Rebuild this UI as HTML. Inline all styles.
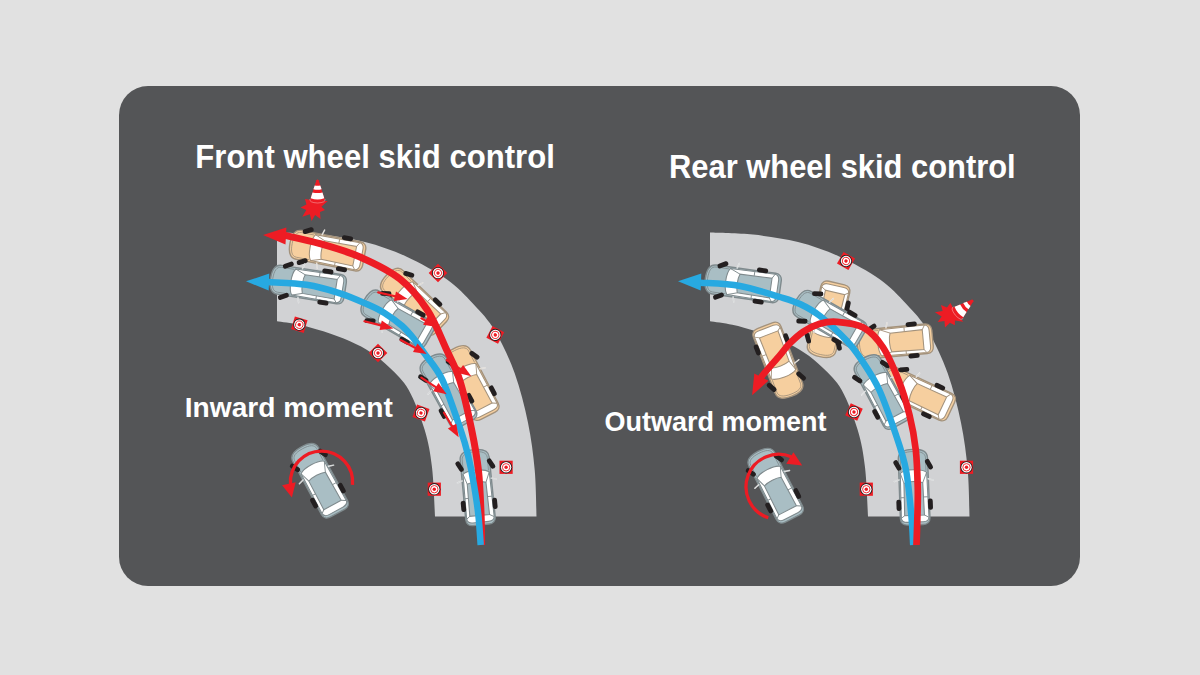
<!DOCTYPE html>
<html><head><meta charset="utf-8"><title>Skid control</title>
<style>
html,body{margin:0;padding:0;background:#e1e1e1;}
body{width:1200px;height:675px;overflow:hidden;position:relative;font-family:"Liberation Sans",sans-serif;}
svg{position:absolute;left:0;top:0;display:block}
.t{position:absolute;color:#fff;font-weight:bold;white-space:nowrap;transform-origin:0 0;line-height:1}
</style></head><body>
<svg width="1200" height="675" viewBox="0 0 1200 675">
<rect x="0" y="0" width="1200" height="675" fill="#e1e1e1"/>
<rect x="119" y="86" width="961" height="500" rx="29" ry="29" fill="#545557"/>
<path d="M277.0,232.5 C284.2,232.8 305.3,233.0 320.0,234.6 C334.7,236.2 350.6,238.3 365.0,242.0 C379.4,245.7 393.1,250.5 406.7,256.7 C420.3,262.9 435.6,271.4 446.7,279.3 C457.8,287.2 465.2,295.4 473.3,304.0 C481.4,312.6 488.1,319.4 495.0,331.0 C501.9,342.6 509.2,358.0 514.7,373.3 C520.2,388.6 524.7,406.6 528.0,422.7 C531.3,438.8 533.3,454.4 534.7,470.0 C536.1,485.6 536.2,508.7 536.5,516.4 L435.0,516.4 C434.5,508.2 433.7,481.7 432.0,467.3 C430.3,452.9 428.6,442.9 424.7,430.0 C420.8,417.1 414.5,400.3 408.7,390.0 C402.9,379.7 396.2,374.2 390.0,368.0 C383.8,361.8 378.0,357.1 371.3,352.7 C364.6,348.2 358.0,344.9 350.0,341.3 C342.0,337.7 331.8,334.1 323.3,331.3 C314.9,328.5 307.0,326.4 299.3,324.7 C291.6,323.0 280.7,321.8 277.0,321.2 Z" fill="#d1d2d4"/>
<g transform="translate(438.0,273.0) rotate(45.0)"><rect x="-6.6" y="-6.6" width="13.2" height="13.2" fill="#ed1c24"/><circle r="6.1" fill="#231f20"/><circle r="5.2" fill="#fff"/><circle r="3.7" fill="none" stroke="#ed1c24" stroke-width="0.9"/><circle r="1.7" fill="#ed1c24"/></g>
<g transform="translate(495.3,334.9) rotate(28.0)"><rect x="-6.6" y="-6.6" width="13.2" height="13.2" fill="#ed1c24"/><circle r="6.1" fill="#231f20"/><circle r="5.2" fill="#fff"/><circle r="3.7" fill="none" stroke="#ed1c24" stroke-width="0.9"/><circle r="1.7" fill="#ed1c24"/></g>
<g transform="translate(299.3,324.7) rotate(17.0)"><rect x="-6.6" y="-6.6" width="13.2" height="13.2" fill="#ed1c24"/><circle r="6.1" fill="#231f20"/><circle r="5.2" fill="#fff"/><circle r="3.7" fill="none" stroke="#ed1c24" stroke-width="0.9"/><circle r="1.7" fill="#ed1c24"/></g>
<g transform="translate(378.0,353.0) rotate(45.0)"><rect x="-6.6" y="-6.6" width="13.2" height="13.2" fill="#ed1c24"/><circle r="6.1" fill="#231f20"/><circle r="5.2" fill="#fff"/><circle r="3.7" fill="none" stroke="#ed1c24" stroke-width="0.9"/><circle r="1.7" fill="#ed1c24"/></g>
<g transform="translate(421.0,413.0) rotate(20.0)"><rect x="-6.6" y="-6.6" width="13.2" height="13.2" fill="#ed1c24"/><circle r="6.1" fill="#231f20"/><circle r="5.2" fill="#fff"/><circle r="3.7" fill="none" stroke="#ed1c24" stroke-width="0.9"/><circle r="1.7" fill="#ed1c24"/></g>
<g transform="translate(506.1,467.3) rotate(0.0)"><rect x="-6.6" y="-6.6" width="13.2" height="13.2" fill="#ed1c24"/><circle r="6.1" fill="#231f20"/><circle r="5.2" fill="#fff"/><circle r="3.7" fill="none" stroke="#ed1c24" stroke-width="0.9"/><circle r="1.7" fill="#ed1c24"/></g>
<g transform="translate(434.3,489.2) rotate(0.0)"><rect x="-6.6" y="-6.6" width="13.2" height="13.2" fill="#ed1c24"/><circle r="6.1" fill="#231f20"/><circle r="5.2" fill="#fff"/><circle r="3.7" fill="none" stroke="#ed1c24" stroke-width="0.9"/><circle r="1.7" fill="#ed1c24"/></g>
<g transform="translate(327.3,250.4) rotate(-79.0) scale(1.000)">
<path d="M-14.6,-29 C-14.6,-35.5 -9,-38 0,-38 C9,-38 14.6,-35.5 14.6,-29 L14.8,31 C14.8,35 12,37.5 8,37.5 L-8,37.5 C-12,37.5 -14.8,35 -14.8,31 Z" fill="#f6cf9f" stroke="#a3927c" stroke-width="1.4"/>
<path d="M-12.6,-16 L-12.6,-29 C-12.6,-33.8 -8,-35.8 0,-35.8 C8,-35.8 12.6,-33.8 12.6,-29 L12.6,-16" fill="none" stroke="#a3927c" stroke-width="0.8"/>
<path d="M-13.2,-14.5 C-8,-18.5 8,-18.5 13.2,-14.5 L13.8,30.5 C13.5,33.5 11,34.8 8,34.8 L-8,34.8 C-11,34.8 -13.5,33.5 -13.8,30.5 Z" fill="#fff" stroke="#a3927c" stroke-width="1.05"/>
<path d="M-9.9,-4.3 C-5,-6.2 4.5,-6.2 8.9,-4.3 L9.4,28 L-10.4,28 Z" fill="#f6cf9f" stroke="#a3927c" stroke-width="1.05"/>
<path d="M-13.2,-14.5 L-9.9,-4.3 M13.2,-14.5 L8.9,-4.3 M-13.7,30.5 L-10.4,28 M13.7,30.5 L9.4,28 M-13.5,10 L-10.2,10 M13.5,10 L9.2,10" stroke="#a3927c" stroke-width="0.9" fill="none"/>
<path d="M-14.5,-8 L-19.5,-6.5 M14.5,-8 L19.5,-6.5" stroke="#f4f4f4" stroke-width="1.4" stroke-linecap="round"/>
<path d="M-14.5,-8 L-19.5,-6.5 M14.5,-8 L19.5,-6.5" stroke="#a3927c" stroke-width="0.4" stroke-linecap="round" opacity="0.6"/>
<rect x="-2.4" y="-5.6" width="4.8" height="11.2" rx="2.2" fill="#231f20" transform="translate(-15.8,-22.5) rotate(-28.0)"/>
<rect x="-2.4" y="-5.6" width="4.8" height="11.2" rx="2.2" fill="#231f20" transform="translate(-15.8,17.5)"/>
<rect x="-2.4" y="-5.6" width="4.8" height="11.2" rx="2.2" fill="#231f20" transform="translate(15.8,-22.5) rotate(-28.0)"/>
<rect x="-2.4" y="-5.6" width="4.8" height="11.2" rx="2.2" fill="#231f20" transform="translate(15.8,17.5)"/>
</g>
<g transform="translate(308.1,284.3) rotate(-81.0) scale(1.000)">
<path d="M-14.6,-29 C-14.6,-35.5 -9,-38 0,-38 C9,-38 14.6,-35.5 14.6,-29 L14.8,31 C14.8,35 12,37.5 8,37.5 L-8,37.5 C-12,37.5 -14.8,35 -14.8,31 Z" fill="#a9bec4" stroke="#7f8a8d" stroke-width="1.4"/>
<path d="M-12.6,-16 L-12.6,-29 C-12.6,-33.8 -8,-35.8 0,-35.8 C8,-35.8 12.6,-33.8 12.6,-29 L12.6,-16" fill="none" stroke="#7f8a8d" stroke-width="0.8"/>
<path d="M-13.2,-14.5 C-8,-18.5 8,-18.5 13.2,-14.5 L13.8,30.5 C13.5,33.5 11,34.8 8,34.8 L-8,34.8 C-11,34.8 -13.5,33.5 -13.8,30.5 Z" fill="#fff" stroke="#7f8a8d" stroke-width="1.05"/>
<path d="M-9.9,-4.3 C-5,-6.2 4.5,-6.2 8.9,-4.3 L9.4,28 L-10.4,28 Z" fill="#a9bec4" stroke="#7f8a8d" stroke-width="1.05"/>
<path d="M-13.2,-14.5 L-9.9,-4.3 M13.2,-14.5 L8.9,-4.3 M-13.7,30.5 L-10.4,28 M13.7,30.5 L9.4,28 M-13.5,10 L-10.2,10 M13.5,10 L9.2,10" stroke="#7f8a8d" stroke-width="0.9" fill="none"/>
<path d="M-14.5,-8 L-19.5,-6.5 M14.5,-8 L19.5,-6.5" stroke="#f4f4f4" stroke-width="1.4" stroke-linecap="round"/>
<path d="M-14.5,-8 L-19.5,-6.5 M14.5,-8 L19.5,-6.5" stroke="#7f8a8d" stroke-width="0.4" stroke-linecap="round" opacity="0.6"/>
<rect x="-2.4" y="-5.6" width="4.8" height="11.2" rx="2.2" fill="#231f20" transform="translate(-15.8,-22.5) rotate(-28.0)"/>
<rect x="-2.4" y="-5.6" width="4.8" height="11.2" rx="2.2" fill="#231f20" transform="translate(-15.8,17.5)"/>
<rect x="-2.4" y="-5.6" width="4.8" height="11.2" rx="2.2" fill="#231f20" transform="translate(15.8,-22.5) rotate(-28.0)"/>
<rect x="-2.4" y="-5.6" width="4.8" height="11.2" rx="2.2" fill="#231f20" transform="translate(15.8,17.5)"/>
</g>
<g transform="translate(414.0,301.3) rotate(-46.0) scale(1.000)">
<path d="M-14.6,-29 C-14.6,-35.5 -9,-38 0,-38 C9,-38 14.6,-35.5 14.6,-29 L14.8,31 C14.8,35 12,37.5 8,37.5 L-8,37.5 C-12,37.5 -14.8,35 -14.8,31 Z" fill="#f6cf9f" stroke="#a3927c" stroke-width="1.4"/>
<path d="M-12.6,-16 L-12.6,-29 C-12.6,-33.8 -8,-35.8 0,-35.8 C8,-35.8 12.6,-33.8 12.6,-29 L12.6,-16" fill="none" stroke="#a3927c" stroke-width="0.8"/>
<path d="M-13.2,-14.5 C-8,-18.5 8,-18.5 13.2,-14.5 L13.8,30.5 C13.5,33.5 11,34.8 8,34.8 L-8,34.8 C-11,34.8 -13.5,33.5 -13.8,30.5 Z" fill="#fff" stroke="#a3927c" stroke-width="1.05"/>
<path d="M-9.9,-4.3 C-5,-6.2 4.5,-6.2 8.9,-4.3 L9.4,28 L-10.4,28 Z" fill="#f6cf9f" stroke="#a3927c" stroke-width="1.05"/>
<path d="M-13.2,-14.5 L-9.9,-4.3 M13.2,-14.5 L8.9,-4.3 M-13.7,30.5 L-10.4,28 M13.7,30.5 L9.4,28 M-13.5,10 L-10.2,10 M13.5,10 L9.2,10" stroke="#a3927c" stroke-width="0.9" fill="none"/>
<path d="M-14.5,-8 L-19.5,-6.5 M14.5,-8 L19.5,-6.5" stroke="#f4f4f4" stroke-width="1.4" stroke-linecap="round"/>
<path d="M-14.5,-8 L-19.5,-6.5 M14.5,-8 L19.5,-6.5" stroke="#a3927c" stroke-width="0.4" stroke-linecap="round" opacity="0.6"/>
<rect x="-2.4" y="-5.6" width="4.8" height="11.2" rx="2.2" fill="#231f20" transform="translate(-15.8,-22.5) rotate(-28.0)"/>
<rect x="-2.4" y="-5.6" width="4.8" height="11.2" rx="2.2" fill="#231f20" transform="translate(-15.8,17.5)"/>
<rect x="-2.4" y="-5.6" width="4.8" height="11.2" rx="2.2" fill="#231f20" transform="translate(15.8,-22.5) rotate(-28.0)"/>
<rect x="-2.4" y="-5.6" width="4.8" height="11.2" rx="2.2" fill="#231f20" transform="translate(15.8,17.5)"/>
</g>
<g transform="translate(397.4,318.4) rotate(-60.0) scale(1.000)">
<path d="M-14.6,-29 C-14.6,-35.5 -9,-38 0,-38 C9,-38 14.6,-35.5 14.6,-29 L14.8,31 C14.8,35 12,37.5 8,37.5 L-8,37.5 C-12,37.5 -14.8,35 -14.8,31 Z" fill="#a9bec4" stroke="#7f8a8d" stroke-width="1.4"/>
<path d="M-12.6,-16 L-12.6,-29 C-12.6,-33.8 -8,-35.8 0,-35.8 C8,-35.8 12.6,-33.8 12.6,-29 L12.6,-16" fill="none" stroke="#7f8a8d" stroke-width="0.8"/>
<path d="M-13.2,-14.5 C-8,-18.5 8,-18.5 13.2,-14.5 L13.8,30.5 C13.5,33.5 11,34.8 8,34.8 L-8,34.8 C-11,34.8 -13.5,33.5 -13.8,30.5 Z" fill="#fff" stroke="#7f8a8d" stroke-width="1.05"/>
<path d="M-9.9,-4.3 C-5,-6.2 4.5,-6.2 8.9,-4.3 L9.4,28 L-10.4,28 Z" fill="#a9bec4" stroke="#7f8a8d" stroke-width="1.05"/>
<path d="M-13.2,-14.5 L-9.9,-4.3 M13.2,-14.5 L8.9,-4.3 M-13.7,30.5 L-10.4,28 M13.7,30.5 L9.4,28 M-13.5,10 L-10.2,10 M13.5,10 L9.2,10" stroke="#7f8a8d" stroke-width="0.9" fill="none"/>
<path d="M-14.5,-8 L-19.5,-6.5 M14.5,-8 L19.5,-6.5" stroke="#f4f4f4" stroke-width="1.4" stroke-linecap="round"/>
<path d="M-14.5,-8 L-19.5,-6.5 M14.5,-8 L19.5,-6.5" stroke="#7f8a8d" stroke-width="0.4" stroke-linecap="round" opacity="0.6"/>
<rect x="-2.4" y="-5.6" width="4.8" height="11.2" rx="2.2" fill="#231f20" transform="translate(-15.8,-22.5) rotate(-28.0)"/>
<rect x="-2.4" y="-5.6" width="4.8" height="11.2" rx="2.2" fill="#231f20" transform="translate(-15.8,17.5)"/>
<rect x="-2.4" y="-5.6" width="4.8" height="11.2" rx="2.2" fill="#231f20" transform="translate(15.8,-22.5) rotate(-28.0)"/>
<rect x="-2.4" y="-5.6" width="4.8" height="11.2" rx="2.2" fill="#231f20" transform="translate(15.8,17.5)"/>
</g>
<g transform="translate(470.8,382.5) rotate(-27.4) scale(1.000)">
<path d="M-14.6,-29 C-14.6,-35.5 -9,-38 0,-38 C9,-38 14.6,-35.5 14.6,-29 L14.8,31 C14.8,35 12,37.5 8,37.5 L-8,37.5 C-12,37.5 -14.8,35 -14.8,31 Z" fill="#f6cf9f" stroke="#a3927c" stroke-width="1.4"/>
<path d="M-12.6,-16 L-12.6,-29 C-12.6,-33.8 -8,-35.8 0,-35.8 C8,-35.8 12.6,-33.8 12.6,-29 L12.6,-16" fill="none" stroke="#a3927c" stroke-width="0.8"/>
<path d="M-13.2,-14.5 C-8,-18.5 8,-18.5 13.2,-14.5 L13.8,30.5 C13.5,33.5 11,34.8 8,34.8 L-8,34.8 C-11,34.8 -13.5,33.5 -13.8,30.5 Z" fill="#fff" stroke="#a3927c" stroke-width="1.05"/>
<path d="M-9.9,-4.3 C-5,-6.2 4.5,-6.2 8.9,-4.3 L9.4,28 L-10.4,28 Z" fill="#f6cf9f" stroke="#a3927c" stroke-width="1.05"/>
<path d="M-13.2,-14.5 L-9.9,-4.3 M13.2,-14.5 L8.9,-4.3 M-13.7,30.5 L-10.4,28 M13.7,30.5 L9.4,28 M-13.5,10 L-10.2,10 M13.5,10 L9.2,10" stroke="#a3927c" stroke-width="0.9" fill="none"/>
<path d="M-14.5,-8 L-19.5,-6.5 M14.5,-8 L19.5,-6.5" stroke="#f4f4f4" stroke-width="1.4" stroke-linecap="round"/>
<path d="M-14.5,-8 L-19.5,-6.5 M14.5,-8 L19.5,-6.5" stroke="#a3927c" stroke-width="0.4" stroke-linecap="round" opacity="0.6"/>
<rect x="-2.4" y="-5.6" width="4.8" height="11.2" rx="2.2" fill="#231f20" transform="translate(-15.8,-22.5) rotate(-28.0)"/>
<rect x="-2.4" y="-5.6" width="4.8" height="11.2" rx="2.2" fill="#231f20" transform="translate(-15.8,17.5)"/>
<rect x="-2.4" y="-5.6" width="4.8" height="11.2" rx="2.2" fill="#231f20" transform="translate(15.8,-22.5) rotate(-28.0)"/>
<rect x="-2.4" y="-5.6" width="4.8" height="11.2" rx="2.2" fill="#231f20" transform="translate(15.8,17.5)"/>
</g>
<g transform="translate(448.0,390.6) rotate(-29.0) scale(1.000)">
<path d="M-14.6,-29 C-14.6,-35.5 -9,-38 0,-38 C9,-38 14.6,-35.5 14.6,-29 L14.8,31 C14.8,35 12,37.5 8,37.5 L-8,37.5 C-12,37.5 -14.8,35 -14.8,31 Z" fill="#a9bec4" stroke="#7f8a8d" stroke-width="1.4"/>
<path d="M-12.6,-16 L-12.6,-29 C-12.6,-33.8 -8,-35.8 0,-35.8 C8,-35.8 12.6,-33.8 12.6,-29 L12.6,-16" fill="none" stroke="#7f8a8d" stroke-width="0.8"/>
<path d="M-13.2,-14.5 C-8,-18.5 8,-18.5 13.2,-14.5 L13.8,30.5 C13.5,33.5 11,34.8 8,34.8 L-8,34.8 C-11,34.8 -13.5,33.5 -13.8,30.5 Z" fill="#fff" stroke="#7f8a8d" stroke-width="1.05"/>
<path d="M-9.9,-4.3 C-5,-6.2 4.5,-6.2 8.9,-4.3 L9.4,28 L-10.4,28 Z" fill="#a9bec4" stroke="#7f8a8d" stroke-width="1.05"/>
<path d="M-13.2,-14.5 L-9.9,-4.3 M13.2,-14.5 L8.9,-4.3 M-13.7,30.5 L-10.4,28 M13.7,30.5 L9.4,28 M-13.5,10 L-10.2,10 M13.5,10 L9.2,10" stroke="#7f8a8d" stroke-width="0.9" fill="none"/>
<path d="M-14.5,-8 L-19.5,-6.5 M14.5,-8 L19.5,-6.5" stroke="#f4f4f4" stroke-width="1.4" stroke-linecap="round"/>
<path d="M-14.5,-8 L-19.5,-6.5 M14.5,-8 L19.5,-6.5" stroke="#7f8a8d" stroke-width="0.4" stroke-linecap="round" opacity="0.6"/>
<rect x="-2.4" y="-5.6" width="4.8" height="11.2" rx="2.2" fill="#231f20" transform="translate(-15.8,-22.5) rotate(-28.0)"/>
<rect x="-2.4" y="-5.6" width="4.8" height="11.2" rx="2.2" fill="#231f20" transform="translate(-15.8,17.5)"/>
<rect x="-2.4" y="-5.6" width="4.8" height="11.2" rx="2.2" fill="#231f20" transform="translate(15.8,-22.5) rotate(-28.0)"/>
<rect x="-2.4" y="-5.6" width="4.8" height="11.2" rx="2.2" fill="#231f20" transform="translate(15.8,17.5)"/>
</g>
<g transform="translate(477.5,487.5) rotate(-5.5) scale(1.000)">
<path d="M-14.6,-29 C-14.6,-35.5 -9,-38 0,-38 C9,-38 14.6,-35.5 14.6,-29 L14.8,31 C14.8,35 12,37.5 8,37.5 L-8,37.5 C-12,37.5 -14.8,35 -14.8,31 Z" fill="#a9bec4" stroke="#7f8a8d" stroke-width="1.4"/>
<path d="M-12.6,-16 L-12.6,-29 C-12.6,-33.8 -8,-35.8 0,-35.8 C8,-35.8 12.6,-33.8 12.6,-29 L12.6,-16" fill="none" stroke="#7f8a8d" stroke-width="0.8"/>
<path d="M-13.2,-14.5 C-8,-18.5 8,-18.5 13.2,-14.5 L13.8,30.5 C13.5,33.5 11,34.8 8,34.8 L-8,34.8 C-11,34.8 -13.5,33.5 -13.8,30.5 Z" fill="#fff" stroke="#7f8a8d" stroke-width="1.05"/>
<path d="M-9.9,-4.3 C-5,-6.2 4.5,-6.2 8.9,-4.3 L9.4,28 L-10.4,28 Z" fill="#a9bec4" stroke="#7f8a8d" stroke-width="1.05"/>
<path d="M-13.2,-14.5 L-9.9,-4.3 M13.2,-14.5 L8.9,-4.3 M-13.7,30.5 L-10.4,28 M13.7,30.5 L9.4,28 M-13.5,10 L-10.2,10 M13.5,10 L9.2,10" stroke="#7f8a8d" stroke-width="0.9" fill="none"/>
<path d="M-14.5,-8 L-19.5,-6.5 M14.5,-8 L19.5,-6.5" stroke="#f4f4f4" stroke-width="1.4" stroke-linecap="round"/>
<path d="M-14.5,-8 L-19.5,-6.5 M14.5,-8 L19.5,-6.5" stroke="#7f8a8d" stroke-width="0.4" stroke-linecap="round" opacity="0.6"/>
<rect x="-2.4" y="-5.6" width="4.8" height="11.2" rx="2.2" fill="#231f20" transform="translate(-15.8,-22.5) rotate(-28.0)"/>
<rect x="-2.4" y="-5.6" width="4.8" height="11.2" rx="2.2" fill="#231f20" transform="translate(-15.8,17.5)"/>
<rect x="-2.4" y="-5.6" width="4.8" height="11.2" rx="2.2" fill="#231f20" transform="translate(15.8,-22.5) rotate(-28.0)"/>
<rect x="-2.4" y="-5.6" width="4.8" height="11.2" rx="2.2" fill="#231f20" transform="translate(15.8,17.5)"/>
</g>
<path d="M284.0,235.2 C290.0,236.6 307.3,240.1 320.0,243.7 C332.7,247.3 346.7,251.1 360.0,257.0 C373.3,262.9 388.8,270.2 400.0,279.0 C411.2,287.8 419.5,298.2 427.3,310.0 C435.1,321.8 441.3,338.3 446.7,350.0 C452.1,361.7 455.5,366.7 459.7,380.0 C463.9,393.3 468.6,415.0 471.7,430.0 C474.8,445.0 476.8,455.8 478.4,470.0 C480.0,484.2 480.6,502.5 481.1,515.0 C481.6,527.5 481.5,540.0 481.6,545.0" fill="none" stroke="#ed1c24" stroke-width="7"/>
<polygon points="263.0,234.9 286.4,227.6 285.5,244.6" fill="#ed1c24"/>
<path d="M268.0,282.0 C274.4,282.5 294.7,282.9 306.7,284.8 C318.7,286.7 330.0,290.1 340.0,293.3 C350.0,296.5 359.3,300.7 366.7,304.0 C374.1,307.3 378.5,309.2 384.4,312.9 C390.3,316.6 397.3,321.6 402.2,326.0 C407.1,330.4 410.3,334.4 414.0,339.0 C417.7,343.6 419.8,346.7 424.5,353.5 C429.2,360.3 436.4,367.2 442.4,380.0 C448.4,392.8 456.4,417.5 460.7,430.0 C465.0,442.5 465.8,445.8 468.0,455.0 C470.2,464.2 472.3,474.9 474.0,485.0 C475.7,495.1 477.3,505.3 478.4,515.3 C479.5,525.3 480.3,540.0 480.7,545.0" fill="none" stroke="#27a9e1" stroke-width="6.5"/>
<polygon points="246.0,281.3 269.3,273.6 268.7,290.6" fill="#27a9e1"/>
<line x1="378.2" y1="292.4" x2="396.2" y2="296.5" stroke="#ed1c24" stroke-width="2.2" stroke-linecap="round"/><polygon points="407.6,299.1 393.9,300.9 396.0,291.5" fill="#ed1c24"/>
<line x1="364.4" y1="321.3" x2="381.9" y2="325.6" stroke="#ed1c24" stroke-width="2.2" stroke-linecap="round"/><polygon points="393.3,328.4 379.5,330.0 381.8,320.6" fill="#ed1c24"/>
<line x1="421.3" y1="318.3" x2="426.6" y2="321.3" stroke="#ed1c24" stroke-width="2.2" stroke-linecap="round"/><polygon points="436.8,327.0 423.1,324.8 427.8,316.5" fill="#ed1c24"/>
<line x1="400.7" y1="340.0" x2="416.4" y2="348.5" stroke="#ed1c24" stroke-width="2.2" stroke-linecap="round"/><polygon points="426.7,354.0 413.0,352.1 417.5,343.6" fill="#ed1c24"/>
<line x1="446.7" y1="360.0" x2="461.5" y2="369.8" stroke="#ed1c24" stroke-width="2.2" stroke-linecap="round"/><polygon points="471.3,376.3 457.8,373.1 463.1,365.1" fill="#ed1c24"/>
<line x1="421.3" y1="377.6" x2="436.9" y2="387.9" stroke="#ed1c24" stroke-width="2.2" stroke-linecap="round"/><polygon points="446.7,394.3 433.2,391.2 438.5,383.1" fill="#ed1c24"/>
<line x1="444.0" y1="412.7" x2="452.7" y2="427.3" stroke="#ed1c24" stroke-width="2.2" stroke-linecap="round"/><polygon points="458.7,437.3 447.9,428.6 456.2,423.7" fill="#ed1c24"/>
<g transform="translate(313.6,207.5) rotate(0.0)"><polygon points="1.6,-8.9 4.8,-6.2 14.1,-6.4 7.8,-0.8 11.4,2.4 6.4,4.5 6.9,11.4 1.5,7.6 -2.0,13.4 -3.8,6.8 -11.3,9.3 -7.3,2.6 -13.0,0.0 -7.2,-3.0 -8.6,-8.6 -2.3,-7.4" fill="#ed1c24"/><g transform="translate(3.9,-7.5)"><path d="M-7.6,0.5 L-1.1,-19.8 Q0,-21 1.1,-19.8 L7.6,0.5 Q0,3.6 -7.6,0.5 Z" fill="#ed1c24"/><path d="M-6.8,-1.8 L-5.0,-7.6 Q0,-6.2 5.0,-7.6 L6.8,-1.8 Q0,0.6 -6.8,-1.8 Z" fill="#fff"/><path d="M-4.1,-10.8 L-2.8,-14.6 Q0,-13.8 2.8,-14.6 L4.1,-10.8 Q0,-9.6 -4.1,-10.8 Z" fill="#fff"/><path d="M-7.6,-1 Q-8.5,2.6 0,3 Q8.5,2.6 7.6,-1" fill="none" stroke="#fff" stroke-width="0.45" opacity="0.75"/></g></g>
<g transform="translate(319.6,480.2) rotate(-28.5) scale(1.000)">
<path d="M-14.6,-29 C-14.6,-35.5 -9,-38 0,-38 C9,-38 14.6,-35.5 14.6,-29 L14.8,31 C14.8,35 12,37.5 8,37.5 L-8,37.5 C-12,37.5 -14.8,35 -14.8,31 Z" fill="#a9bec4" stroke="#7f8a8d" stroke-width="1.4"/>
<path d="M-12.6,-16 L-12.6,-29 C-12.6,-33.8 -8,-35.8 0,-35.8 C8,-35.8 12.6,-33.8 12.6,-29 L12.6,-16" fill="none" stroke="#7f8a8d" stroke-width="0.8"/>
<path d="M-13.2,-14.5 C-8,-18.5 8,-18.5 13.2,-14.5 L13.8,30.5 C13.5,33.5 11,34.8 8,34.8 L-8,34.8 C-11,34.8 -13.5,33.5 -13.8,30.5 Z" fill="#fff" stroke="#7f8a8d" stroke-width="1.05"/>
<path d="M-9.9,-4.3 C-5,-6.2 4.5,-6.2 8.9,-4.3 L9.4,28 L-10.4,28 Z" fill="#a9bec4" stroke="#7f8a8d" stroke-width="1.05"/>
<path d="M-13.2,-14.5 L-9.9,-4.3 M13.2,-14.5 L8.9,-4.3 M-13.7,30.5 L-10.4,28 M13.7,30.5 L9.4,28 M-13.5,10 L-10.2,10 M13.5,10 L9.2,10" stroke="#7f8a8d" stroke-width="0.9" fill="none"/>
<path d="M-14.5,-8 L-19.5,-6.5 M14.5,-8 L19.5,-6.5" stroke="#f4f4f4" stroke-width="1.4" stroke-linecap="round"/>
<path d="M-14.5,-8 L-19.5,-6.5 M14.5,-8 L19.5,-6.5" stroke="#7f8a8d" stroke-width="0.4" stroke-linecap="round" opacity="0.6"/>
<rect x="-2.4" y="-5.6" width="4.8" height="11.2" rx="2.2" fill="#231f20" transform="translate(-15.8,-22.5) rotate(-28.0)"/>
<rect x="-2.4" y="-5.6" width="4.8" height="11.2" rx="2.2" fill="#231f20" transform="translate(-15.8,17.5)"/>
<rect x="-2.4" y="-5.6" width="4.8" height="11.2" rx="2.2" fill="#231f20" transform="translate(15.8,-22.5) rotate(-28.0)"/>
<rect x="-2.4" y="-5.6" width="4.8" height="11.2" rx="2.2" fill="#231f20" transform="translate(15.8,17.5)"/>
</g>
<path d="M352.5,484.8 A31.1,31.1 0 1 0 290.5,484.5" fill="none" stroke="#ed1c24" stroke-width="3.3"/>
<polygon points="291.9,497.4 282.1,485.2 295.7,482.2" fill="#ed1c24"/>
<path d="M710.0,232.5 C717.2,232.8 738.3,233.0 753.0,234.6 C767.7,236.2 783.5,238.3 798.0,242.0 C812.5,245.7 826.1,250.5 839.7,256.7 C853.3,262.9 868.6,271.4 879.7,279.3 C890.8,287.2 898.2,295.4 906.3,304.0 C914.3,312.6 921.1,319.4 928.0,331.0 C934.9,342.6 942.2,358.0 947.7,373.3 C953.2,388.6 957.7,406.6 961.0,422.7 C964.3,438.8 966.3,454.4 967.7,470.0 C969.1,485.6 969.2,508.7 969.5,516.4 L868.0,516.4 C867.5,508.2 866.7,481.7 865.0,467.3 C863.3,452.9 861.6,442.9 857.7,430.0 C853.8,417.1 847.5,400.3 841.7,390.0 C835.9,379.7 829.2,374.2 823.0,368.0 C816.8,361.8 811.0,357.1 804.3,352.7 C797.6,348.2 791.0,344.9 783.0,341.3 C775.0,337.7 764.8,334.1 756.3,331.3 C747.8,328.5 740.0,326.4 732.3,324.7 C724.6,323.0 713.7,321.8 710.0,321.2 Z" fill="#d1d2d4"/>
<g transform="translate(846.0,261.0) rotate(30.0)"><rect x="-6.6" y="-6.6" width="13.2" height="13.2" fill="#ed1c24"/><circle r="6.1" fill="#231f20"/><circle r="5.2" fill="#fff"/><circle r="3.7" fill="none" stroke="#ed1c24" stroke-width="0.9"/><circle r="1.7" fill="#ed1c24"/></g>
<g transform="translate(854.0,412.0) rotate(25.0)"><rect x="-6.6" y="-6.6" width="13.2" height="13.2" fill="#ed1c24"/><circle r="6.1" fill="#231f20"/><circle r="5.2" fill="#fff"/><circle r="3.7" fill="none" stroke="#ed1c24" stroke-width="0.9"/><circle r="1.7" fill="#ed1c24"/></g>
<g transform="translate(966.5,467.3) rotate(0.0)"><rect x="-6.6" y="-6.6" width="13.2" height="13.2" fill="#ed1c24"/><circle r="6.1" fill="#231f20"/><circle r="5.2" fill="#fff"/><circle r="3.7" fill="none" stroke="#ed1c24" stroke-width="0.9"/><circle r="1.7" fill="#ed1c24"/></g>
<g transform="translate(866.3,489.2) rotate(0.0)"><rect x="-6.6" y="-6.6" width="13.2" height="13.2" fill="#ed1c24"/><circle r="6.1" fill="#231f20"/><circle r="5.2" fill="#fff"/><circle r="3.7" fill="none" stroke="#ed1c24" stroke-width="0.9"/><circle r="1.7" fill="#ed1c24"/></g>
<g transform="translate(743.0,283.6) rotate(-81.9) scale(1.000)">
<path d="M-14.6,-29 C-14.6,-35.5 -9,-38 0,-38 C9,-38 14.6,-35.5 14.6,-29 L14.8,31 C14.8,35 12,37.5 8,37.5 L-8,37.5 C-12,37.5 -14.8,35 -14.8,31 Z" fill="#a9bec4" stroke="#7f8a8d" stroke-width="1.4"/>
<path d="M-12.6,-16 L-12.6,-29 C-12.6,-33.8 -8,-35.8 0,-35.8 C8,-35.8 12.6,-33.8 12.6,-29 L12.6,-16" fill="none" stroke="#7f8a8d" stroke-width="0.8"/>
<path d="M-13.2,-14.5 C-8,-18.5 8,-18.5 13.2,-14.5 L13.8,30.5 C13.5,33.5 11,34.8 8,34.8 L-8,34.8 C-11,34.8 -13.5,33.5 -13.8,30.5 Z" fill="#fff" stroke="#7f8a8d" stroke-width="1.05"/>
<path d="M-9.9,-4.3 C-5,-6.2 4.5,-6.2 8.9,-4.3 L9.4,28 L-10.4,28 Z" fill="#a9bec4" stroke="#7f8a8d" stroke-width="1.05"/>
<path d="M-13.2,-14.5 L-9.9,-4.3 M13.2,-14.5 L8.9,-4.3 M-13.7,30.5 L-10.4,28 M13.7,30.5 L9.4,28 M-13.5,10 L-10.2,10 M13.5,10 L9.2,10" stroke="#7f8a8d" stroke-width="0.9" fill="none"/>
<path d="M-14.5,-8 L-19.5,-6.5 M14.5,-8 L19.5,-6.5" stroke="#f4f4f4" stroke-width="1.4" stroke-linecap="round"/>
<path d="M-14.5,-8 L-19.5,-6.5 M14.5,-8 L19.5,-6.5" stroke="#7f8a8d" stroke-width="0.4" stroke-linecap="round" opacity="0.6"/>
<rect x="-2.4" y="-5.6" width="4.8" height="11.2" rx="2.2" fill="#231f20" transform="translate(-15.8,-22.5) rotate(-28.0)"/>
<rect x="-2.4" y="-5.6" width="4.8" height="11.2" rx="2.2" fill="#231f20" transform="translate(-15.8,17.5)"/>
<rect x="-2.4" y="-5.6" width="4.8" height="11.2" rx="2.2" fill="#231f20" transform="translate(15.8,-22.5) rotate(-28.0)"/>
<rect x="-2.4" y="-5.6" width="4.8" height="11.2" rx="2.2" fill="#231f20" transform="translate(15.8,17.5)"/>
</g>
<g transform="translate(778.3,360.7) rotate(159.0) scale(1.000)">
<path d="M-14.6,-29 C-14.6,-35.5 -9,-38 0,-38 C9,-38 14.6,-35.5 14.6,-29 L14.8,31 C14.8,35 12,37.5 8,37.5 L-8,37.5 C-12,37.5 -14.8,35 -14.8,31 Z" fill="#f6cf9f" stroke="#a3927c" stroke-width="1.4"/>
<path d="M-12.6,-16 L-12.6,-29 C-12.6,-33.8 -8,-35.8 0,-35.8 C8,-35.8 12.6,-33.8 12.6,-29 L12.6,-16" fill="none" stroke="#a3927c" stroke-width="0.8"/>
<path d="M-13.2,-14.5 C-8,-18.5 8,-18.5 13.2,-14.5 L13.8,30.5 C13.5,33.5 11,34.8 8,34.8 L-8,34.8 C-11,34.8 -13.5,33.5 -13.8,30.5 Z" fill="#fff" stroke="#a3927c" stroke-width="1.05"/>
<path d="M-9.9,-4.3 C-5,-6.2 4.5,-6.2 8.9,-4.3 L9.4,28 L-10.4,28 Z" fill="#f6cf9f" stroke="#a3927c" stroke-width="1.05"/>
<path d="M-13.2,-14.5 L-9.9,-4.3 M13.2,-14.5 L8.9,-4.3 M-13.7,30.5 L-10.4,28 M13.7,30.5 L9.4,28 M-13.5,10 L-10.2,10 M13.5,10 L9.2,10" stroke="#a3927c" stroke-width="0.9" fill="none"/>
<path d="M-14.5,-8 L-19.5,-6.5 M14.5,-8 L19.5,-6.5" stroke="#f4f4f4" stroke-width="1.4" stroke-linecap="round"/>
<path d="M-14.5,-8 L-19.5,-6.5 M14.5,-8 L19.5,-6.5" stroke="#a3927c" stroke-width="0.4" stroke-linecap="round" opacity="0.6"/>
<rect x="-2.4" y="-5.6" width="4.8" height="11.2" rx="2.2" fill="#231f20" transform="translate(-15.8,-22.5) rotate(-28.0)"/>
<rect x="-2.4" y="-5.6" width="4.8" height="11.2" rx="2.2" fill="#231f20" transform="translate(-15.8,17.5)"/>
<rect x="-2.4" y="-5.6" width="4.8" height="11.2" rx="2.2" fill="#231f20" transform="translate(15.8,-22.5) rotate(-28.0)"/>
<rect x="-2.4" y="-5.6" width="4.8" height="11.2" rx="2.2" fill="#231f20" transform="translate(15.8,17.5)"/>
</g>
<g transform="translate(828.3,319.6) rotate(193.0) scale(1.000)">
<path d="M-14.6,-29 C-14.6,-35.5 -9,-38 0,-38 C9,-38 14.6,-35.5 14.6,-29 L14.8,31 C14.8,35 12,37.5 8,37.5 L-8,37.5 C-12,37.5 -14.8,35 -14.8,31 Z" fill="#f6cf9f" stroke="#a3927c" stroke-width="1.4"/>
<path d="M-12.6,-16 L-12.6,-29 C-12.6,-33.8 -8,-35.8 0,-35.8 C8,-35.8 12.6,-33.8 12.6,-29 L12.6,-16" fill="none" stroke="#a3927c" stroke-width="0.8"/>
<path d="M-13.2,-14.5 C-8,-18.5 8,-18.5 13.2,-14.5 L13.8,30.5 C13.5,33.5 11,34.8 8,34.8 L-8,34.8 C-11,34.8 -13.5,33.5 -13.8,30.5 Z" fill="#fff" stroke="#a3927c" stroke-width="1.05"/>
<path d="M-9.9,-4.3 C-5,-6.2 4.5,-6.2 8.9,-4.3 L9.4,28 L-10.4,28 Z" fill="#f6cf9f" stroke="#a3927c" stroke-width="1.05"/>
<path d="M-13.2,-14.5 L-9.9,-4.3 M13.2,-14.5 L8.9,-4.3 M-13.7,30.5 L-10.4,28 M13.7,30.5 L9.4,28 M-13.5,10 L-10.2,10 M13.5,10 L9.2,10" stroke="#a3927c" stroke-width="0.9" fill="none"/>
<path d="M-14.5,-8 L-19.5,-6.5 M14.5,-8 L19.5,-6.5" stroke="#f4f4f4" stroke-width="1.4" stroke-linecap="round"/>
<path d="M-14.5,-8 L-19.5,-6.5 M14.5,-8 L19.5,-6.5" stroke="#a3927c" stroke-width="0.4" stroke-linecap="round" opacity="0.6"/>
<rect x="-2.4" y="-5.6" width="4.8" height="11.2" rx="2.2" fill="#231f20" transform="translate(-15.8,-22.5) rotate(-28.0)"/>
<rect x="-2.4" y="-5.6" width="4.8" height="11.2" rx="2.2" fill="#231f20" transform="translate(-15.8,17.5)"/>
<rect x="-2.4" y="-5.6" width="4.8" height="11.2" rx="2.2" fill="#231f20" transform="translate(15.8,-22.5) rotate(-28.0)"/>
<rect x="-2.4" y="-5.6" width="4.8" height="11.2" rx="2.2" fill="#231f20" transform="translate(15.8,17.5)"/>
</g>
<g transform="translate(895.2,341.6) rotate(-95.2) scale(1.000)">
<path d="M-14.6,-29 C-14.6,-35.5 -9,-38 0,-38 C9,-38 14.6,-35.5 14.6,-29 L14.8,31 C14.8,35 12,37.5 8,37.5 L-8,37.5 C-12,37.5 -14.8,35 -14.8,31 Z" fill="#f6cf9f" stroke="#a3927c" stroke-width="1.4"/>
<path d="M-12.6,-16 L-12.6,-29 C-12.6,-33.8 -8,-35.8 0,-35.8 C8,-35.8 12.6,-33.8 12.6,-29 L12.6,-16" fill="none" stroke="#a3927c" stroke-width="0.8"/>
<path d="M-13.2,-14.5 C-8,-18.5 8,-18.5 13.2,-14.5 L13.8,30.5 C13.5,33.5 11,34.8 8,34.8 L-8,34.8 C-11,34.8 -13.5,33.5 -13.8,30.5 Z" fill="#fff" stroke="#a3927c" stroke-width="1.05"/>
<path d="M-9.9,-4.3 C-5,-6.2 4.5,-6.2 8.9,-4.3 L9.4,28 L-10.4,28 Z" fill="#f6cf9f" stroke="#a3927c" stroke-width="1.05"/>
<path d="M-13.2,-14.5 L-9.9,-4.3 M13.2,-14.5 L8.9,-4.3 M-13.7,30.5 L-10.4,28 M13.7,30.5 L9.4,28 M-13.5,10 L-10.2,10 M13.5,10 L9.2,10" stroke="#a3927c" stroke-width="0.9" fill="none"/>
<path d="M-14.5,-8 L-19.5,-6.5 M14.5,-8 L19.5,-6.5" stroke="#f4f4f4" stroke-width="1.4" stroke-linecap="round"/>
<path d="M-14.5,-8 L-19.5,-6.5 M14.5,-8 L19.5,-6.5" stroke="#a3927c" stroke-width="0.4" stroke-linecap="round" opacity="0.6"/>
<rect x="-2.4" y="-5.6" width="4.8" height="11.2" rx="2.2" fill="#231f20" transform="translate(-15.8,-22.5) rotate(-28.0)"/>
<rect x="-2.4" y="-5.6" width="4.8" height="11.2" rx="2.2" fill="#231f20" transform="translate(-15.8,17.5)"/>
<rect x="-2.4" y="-5.6" width="4.8" height="11.2" rx="2.2" fill="#231f20" transform="translate(15.8,-22.5) rotate(-28.0)"/>
<rect x="-2.4" y="-5.6" width="4.8" height="11.2" rx="2.2" fill="#231f20" transform="translate(15.8,17.5)"/>
</g>
<g transform="translate(829.3,318.7) rotate(-60.0) scale(1.000)">
<path d="M-14.6,-29 C-14.6,-35.5 -9,-38 0,-38 C9,-38 14.6,-35.5 14.6,-29 L14.8,31 C14.8,35 12,37.5 8,37.5 L-8,37.5 C-12,37.5 -14.8,35 -14.8,31 Z" fill="#a9bec4" stroke="#7f8a8d" stroke-width="1.4"/>
<path d="M-12.6,-16 L-12.6,-29 C-12.6,-33.8 -8,-35.8 0,-35.8 C8,-35.8 12.6,-33.8 12.6,-29 L12.6,-16" fill="none" stroke="#7f8a8d" stroke-width="0.8"/>
<path d="M-13.2,-14.5 C-8,-18.5 8,-18.5 13.2,-14.5 L13.8,30.5 C13.5,33.5 11,34.8 8,34.8 L-8,34.8 C-11,34.8 -13.5,33.5 -13.8,30.5 Z" fill="#fff" stroke="#7f8a8d" stroke-width="1.05"/>
<path d="M-9.9,-4.3 C-5,-6.2 4.5,-6.2 8.9,-4.3 L9.4,28 L-10.4,28 Z" fill="#a9bec4" stroke="#7f8a8d" stroke-width="1.05"/>
<path d="M-13.2,-14.5 L-9.9,-4.3 M13.2,-14.5 L8.9,-4.3 M-13.7,30.5 L-10.4,28 M13.7,30.5 L9.4,28 M-13.5,10 L-10.2,10 M13.5,10 L9.2,10" stroke="#7f8a8d" stroke-width="0.9" fill="none"/>
<path d="M-14.5,-8 L-19.5,-6.5 M14.5,-8 L19.5,-6.5" stroke="#f4f4f4" stroke-width="1.4" stroke-linecap="round"/>
<path d="M-14.5,-8 L-19.5,-6.5 M14.5,-8 L19.5,-6.5" stroke="#7f8a8d" stroke-width="0.4" stroke-linecap="round" opacity="0.6"/>
<rect x="-2.4" y="-5.6" width="4.8" height="11.2" rx="2.2" fill="#231f20" transform="translate(-15.8,-22.5) rotate(-28.0)"/>
<rect x="-2.4" y="-5.6" width="4.8" height="11.2" rx="2.2" fill="#231f20" transform="translate(-15.8,17.5)"/>
<rect x="-2.4" y="-5.6" width="4.8" height="11.2" rx="2.2" fill="#231f20" transform="translate(15.8,-22.5) rotate(-28.0)"/>
<rect x="-2.4" y="-5.6" width="4.8" height="11.2" rx="2.2" fill="#231f20" transform="translate(15.8,17.5)"/>
</g>
<g transform="translate(917.3,393.5) rotate(-64.8) scale(1.000)">
<path d="M-14.6,-29 C-14.6,-35.5 -9,-38 0,-38 C9,-38 14.6,-35.5 14.6,-29 L14.8,31 C14.8,35 12,37.5 8,37.5 L-8,37.5 C-12,37.5 -14.8,35 -14.8,31 Z" fill="#f6cf9f" stroke="#a3927c" stroke-width="1.4"/>
<path d="M-12.6,-16 L-12.6,-29 C-12.6,-33.8 -8,-35.8 0,-35.8 C8,-35.8 12.6,-33.8 12.6,-29 L12.6,-16" fill="none" stroke="#a3927c" stroke-width="0.8"/>
<path d="M-13.2,-14.5 C-8,-18.5 8,-18.5 13.2,-14.5 L13.8,30.5 C13.5,33.5 11,34.8 8,34.8 L-8,34.8 C-11,34.8 -13.5,33.5 -13.8,30.5 Z" fill="#fff" stroke="#a3927c" stroke-width="1.05"/>
<path d="M-9.9,-4.3 C-5,-6.2 4.5,-6.2 8.9,-4.3 L9.4,28 L-10.4,28 Z" fill="#f6cf9f" stroke="#a3927c" stroke-width="1.05"/>
<path d="M-13.2,-14.5 L-9.9,-4.3 M13.2,-14.5 L8.9,-4.3 M-13.7,30.5 L-10.4,28 M13.7,30.5 L9.4,28 M-13.5,10 L-10.2,10 M13.5,10 L9.2,10" stroke="#a3927c" stroke-width="0.9" fill="none"/>
<path d="M-14.5,-8 L-19.5,-6.5 M14.5,-8 L19.5,-6.5" stroke="#f4f4f4" stroke-width="1.4" stroke-linecap="round"/>
<path d="M-14.5,-8 L-19.5,-6.5 M14.5,-8 L19.5,-6.5" stroke="#a3927c" stroke-width="0.4" stroke-linecap="round" opacity="0.6"/>
<rect x="-2.4" y="-5.6" width="4.8" height="11.2" rx="2.2" fill="#231f20" transform="translate(-15.8,-22.5) rotate(-28.0)"/>
<rect x="-2.4" y="-5.6" width="4.8" height="11.2" rx="2.2" fill="#231f20" transform="translate(-15.8,17.5)"/>
<rect x="-2.4" y="-5.6" width="4.8" height="11.2" rx="2.2" fill="#231f20" transform="translate(15.8,-22.5) rotate(-28.0)"/>
<rect x="-2.4" y="-5.6" width="4.8" height="11.2" rx="2.2" fill="#231f20" transform="translate(15.8,17.5)"/>
</g>
<g transform="translate(881.8,391.5) rotate(-28.3) scale(1.000)">
<path d="M-14.6,-29 C-14.6,-35.5 -9,-38 0,-38 C9,-38 14.6,-35.5 14.6,-29 L14.8,31 C14.8,35 12,37.5 8,37.5 L-8,37.5 C-12,37.5 -14.8,35 -14.8,31 Z" fill="#a9bec4" stroke="#7f8a8d" stroke-width="1.4"/>
<path d="M-12.6,-16 L-12.6,-29 C-12.6,-33.8 -8,-35.8 0,-35.8 C8,-35.8 12.6,-33.8 12.6,-29 L12.6,-16" fill="none" stroke="#7f8a8d" stroke-width="0.8"/>
<path d="M-13.2,-14.5 C-8,-18.5 8,-18.5 13.2,-14.5 L13.8,30.5 C13.5,33.5 11,34.8 8,34.8 L-8,34.8 C-11,34.8 -13.5,33.5 -13.8,30.5 Z" fill="#fff" stroke="#7f8a8d" stroke-width="1.05"/>
<path d="M-9.9,-4.3 C-5,-6.2 4.5,-6.2 8.9,-4.3 L9.4,28 L-10.4,28 Z" fill="#a9bec4" stroke="#7f8a8d" stroke-width="1.05"/>
<path d="M-13.2,-14.5 L-9.9,-4.3 M13.2,-14.5 L8.9,-4.3 M-13.7,30.5 L-10.4,28 M13.7,30.5 L9.4,28 M-13.5,10 L-10.2,10 M13.5,10 L9.2,10" stroke="#7f8a8d" stroke-width="0.9" fill="none"/>
<path d="M-14.5,-8 L-19.5,-6.5 M14.5,-8 L19.5,-6.5" stroke="#f4f4f4" stroke-width="1.4" stroke-linecap="round"/>
<path d="M-14.5,-8 L-19.5,-6.5 M14.5,-8 L19.5,-6.5" stroke="#7f8a8d" stroke-width="0.4" stroke-linecap="round" opacity="0.6"/>
<rect x="-2.4" y="-5.6" width="4.8" height="11.2" rx="2.2" fill="#231f20" transform="translate(-15.8,-22.5) rotate(-28.0)"/>
<rect x="-2.4" y="-5.6" width="4.8" height="11.2" rx="2.2" fill="#231f20" transform="translate(-15.8,17.5)"/>
<rect x="-2.4" y="-5.6" width="4.8" height="11.2" rx="2.2" fill="#231f20" transform="translate(15.8,-22.5) rotate(-28.0)"/>
<rect x="-2.4" y="-5.6" width="4.8" height="11.2" rx="2.2" fill="#231f20" transform="translate(15.8,17.5)"/>
</g>
<g transform="translate(914.0,487.3) rotate(-2.2) scale(1.000)">
<path d="M-14.6,-29 C-14.6,-35.5 -9,-38 0,-38 C9,-38 14.6,-35.5 14.6,-29 L14.8,31 C14.8,35 12,37.5 8,37.5 L-8,37.5 C-12,37.5 -14.8,35 -14.8,31 Z" fill="#a9bec4" stroke="#7f8a8d" stroke-width="1.4"/>
<path d="M-12.6,-16 L-12.6,-29 C-12.6,-33.8 -8,-35.8 0,-35.8 C8,-35.8 12.6,-33.8 12.6,-29 L12.6,-16" fill="none" stroke="#7f8a8d" stroke-width="0.8"/>
<path d="M-13.2,-14.5 C-8,-18.5 8,-18.5 13.2,-14.5 L13.8,30.5 C13.5,33.5 11,34.8 8,34.8 L-8,34.8 C-11,34.8 -13.5,33.5 -13.8,30.5 Z" fill="#fff" stroke="#7f8a8d" stroke-width="1.05"/>
<path d="M-9.9,-4.3 C-5,-6.2 4.5,-6.2 8.9,-4.3 L9.4,28 L-10.4,28 Z" fill="#a9bec4" stroke="#7f8a8d" stroke-width="1.05"/>
<path d="M-13.2,-14.5 L-9.9,-4.3 M13.2,-14.5 L8.9,-4.3 M-13.7,30.5 L-10.4,28 M13.7,30.5 L9.4,28 M-13.5,10 L-10.2,10 M13.5,10 L9.2,10" stroke="#7f8a8d" stroke-width="0.9" fill="none"/>
<path d="M-14.5,-8 L-19.5,-6.5 M14.5,-8 L19.5,-6.5" stroke="#f4f4f4" stroke-width="1.4" stroke-linecap="round"/>
<path d="M-14.5,-8 L-19.5,-6.5 M14.5,-8 L19.5,-6.5" stroke="#7f8a8d" stroke-width="0.4" stroke-linecap="round" opacity="0.6"/>
<rect x="-2.4" y="-5.6" width="4.8" height="11.2" rx="2.2" fill="#231f20" transform="translate(-15.8,-22.5) rotate(-28.0)"/>
<rect x="-2.4" y="-5.6" width="4.8" height="11.2" rx="2.2" fill="#231f20" transform="translate(-15.8,17.5)"/>
<rect x="-2.4" y="-5.6" width="4.8" height="11.2" rx="2.2" fill="#231f20" transform="translate(15.8,-22.5) rotate(-28.0)"/>
<rect x="-2.4" y="-5.6" width="4.8" height="11.2" rx="2.2" fill="#231f20" transform="translate(15.8,17.5)"/>
</g>
<path d="M700.7,282.7 C707.2,283.2 726.8,283.6 740.0,286.0 C753.2,288.4 770.0,294.0 780.0,297.0 C790.0,300.0 793.3,300.8 800.0,304.0 C806.7,307.2 812.2,309.9 820.0,316.0 C827.8,322.1 839.8,333.4 846.7,340.7 C853.6,348.0 856.2,351.8 861.6,360.0 C867.0,368.2 873.6,377.5 879.3,390.0 C885.0,402.5 891.5,421.7 896.0,435.0 C900.5,448.3 903.5,456.7 906.0,470.0 C908.5,483.3 910.1,502.5 911.3,515.0 C912.5,527.5 912.9,540.0 913.2,545.0" fill="none" stroke="#27a9e1" stroke-width="6.5"/>
<polygon points="678.0,281.3 701.3,273.6 700.7,290.6" fill="#27a9e1"/>
<path d="M759.8,380.5 C760.3,379.6 759.5,379.1 762.8,375.0 C766.1,370.9 775.1,360.8 779.6,355.6 C784.1,350.4 785.6,347.6 789.5,343.7 C793.4,339.8 798.1,335.2 803.1,331.9 C808.1,328.6 814.1,325.5 819.7,323.8 C825.3,322.1 829.4,321.2 836.7,321.8 C844.0,322.4 855.6,323.3 863.3,327.5 C871.0,331.7 876.9,338.2 882.8,347.0 C888.7,355.8 894.0,368.7 898.5,380.0 C903.0,391.3 906.6,403.3 909.5,415.0 C912.4,426.7 914.4,437.5 915.8,450.0 C917.2,462.5 917.5,478.3 917.8,490.0 C918.0,501.7 917.5,510.8 917.3,520.0 C917.1,529.2 916.6,540.8 916.5,545.0" fill="none" stroke="#ed1c24" stroke-width="6.7"/>
<polygon points="752.1,395.3 754.3,373.4 768.5,380.7" fill="#ed1c24"/>
<g transform="translate(949.3,315.0) rotate(50.0)"><polygon points="1.6,-8.9 4.8,-6.2 14.1,-6.4 7.8,-0.8 11.4,2.4 6.4,4.5 6.9,11.4 1.5,7.6 -2.0,13.4 -3.8,6.8 -11.3,9.3 -7.3,2.6 -13.0,0.0 -7.2,-3.0 -8.6,-8.6 -2.3,-7.4" fill="#ed1c24"/><g transform="translate(3.9,-7.5)"><path d="M-7.6,0.5 L-1.1,-19.8 Q0,-21 1.1,-19.8 L7.6,0.5 Q0,3.6 -7.6,0.5 Z" fill="#ed1c24"/><path d="M-6.8,-1.8 L-5.0,-7.6 Q0,-6.2 5.0,-7.6 L6.8,-1.8 Q0,0.6 -6.8,-1.8 Z" fill="#fff"/><path d="M-4.1,-10.8 L-2.8,-14.6 Q0,-13.8 2.8,-14.6 L4.1,-10.8 Q0,-9.6 -4.1,-10.8 Z" fill="#fff"/><path d="M-7.6,-1 Q-8.5,2.6 0,3 Q8.5,2.6 7.6,-1" fill="none" stroke="#fff" stroke-width="0.45" opacity="0.75"/></g></g>
<g transform="translate(775.2,485.2) rotate(-27.3) scale(1.000)">
<path d="M-14.6,-29 C-14.6,-35.5 -9,-38 0,-38 C9,-38 14.6,-35.5 14.6,-29 L14.8,31 C14.8,35 12,37.5 8,37.5 L-8,37.5 C-12,37.5 -14.8,35 -14.8,31 Z" fill="#a9bec4" stroke="#7f8a8d" stroke-width="1.4"/>
<path d="M-12.6,-16 L-12.6,-29 C-12.6,-33.8 -8,-35.8 0,-35.8 C8,-35.8 12.6,-33.8 12.6,-29 L12.6,-16" fill="none" stroke="#7f8a8d" stroke-width="0.8"/>
<path d="M-13.2,-14.5 C-8,-18.5 8,-18.5 13.2,-14.5 L13.8,30.5 C13.5,33.5 11,34.8 8,34.8 L-8,34.8 C-11,34.8 -13.5,33.5 -13.8,30.5 Z" fill="#fff" stroke="#7f8a8d" stroke-width="1.05"/>
<path d="M-9.9,-4.3 C-5,-6.2 4.5,-6.2 8.9,-4.3 L9.4,28 L-10.4,28 Z" fill="#a9bec4" stroke="#7f8a8d" stroke-width="1.05"/>
<path d="M-13.2,-14.5 L-9.9,-4.3 M13.2,-14.5 L8.9,-4.3 M-13.7,30.5 L-10.4,28 M13.7,30.5 L9.4,28 M-13.5,10 L-10.2,10 M13.5,10 L9.2,10" stroke="#7f8a8d" stroke-width="0.9" fill="none"/>
<path d="M-14.5,-8 L-19.5,-6.5 M14.5,-8 L19.5,-6.5" stroke="#f4f4f4" stroke-width="1.4" stroke-linecap="round"/>
<path d="M-14.5,-8 L-19.5,-6.5 M14.5,-8 L19.5,-6.5" stroke="#7f8a8d" stroke-width="0.4" stroke-linecap="round" opacity="0.6"/>
<rect x="-2.4" y="-5.6" width="4.8" height="11.2" rx="2.2" fill="#231f20" transform="translate(-15.8,-22.5) rotate(-28.0)"/>
<rect x="-2.4" y="-5.6" width="4.8" height="11.2" rx="2.2" fill="#231f20" transform="translate(-15.8,17.5)"/>
<rect x="-2.4" y="-5.6" width="4.8" height="11.2" rx="2.2" fill="#231f20" transform="translate(15.8,-22.5) rotate(-28.0)"/>
<rect x="-2.4" y="-5.6" width="4.8" height="11.2" rx="2.2" fill="#231f20" transform="translate(15.8,17.5)"/>
</g>
<path d="M768.3,517.8 A32.6,32.6 0 1 1 791.2,456.8" fill="none" stroke="#ed1c24" stroke-width="3.3"/>
<polygon points="802.2,465.6 786.3,463.8 793.4,452.3" fill="#ed1c24"/>
<text x="195.3" y="167.7" font-family="Liberation Sans, sans-serif" font-weight="bold" font-size="32.7" fill="#fff" textLength="359.5" lengthAdjust="spacingAndGlyphs">Front wheel skid control</text>
<text x="669.0" y="177.7" font-family="Liberation Sans, sans-serif" font-weight="bold" font-size="32.7" fill="#fff" textLength="346.7" lengthAdjust="spacingAndGlyphs">Rear wheel skid control</text>
<text x="184.8" y="416.8" font-family="Liberation Sans, sans-serif" font-weight="bold" font-size="28.0" fill="#fff" textLength="208.0" lengthAdjust="spacingAndGlyphs">Inward moment</text>
<text x="604.6" y="430.8" font-family="Liberation Sans, sans-serif" font-weight="bold" font-size="28.0" fill="#fff" textLength="222.0" lengthAdjust="spacingAndGlyphs">Outward moment</text>
</svg>
</body></html>
